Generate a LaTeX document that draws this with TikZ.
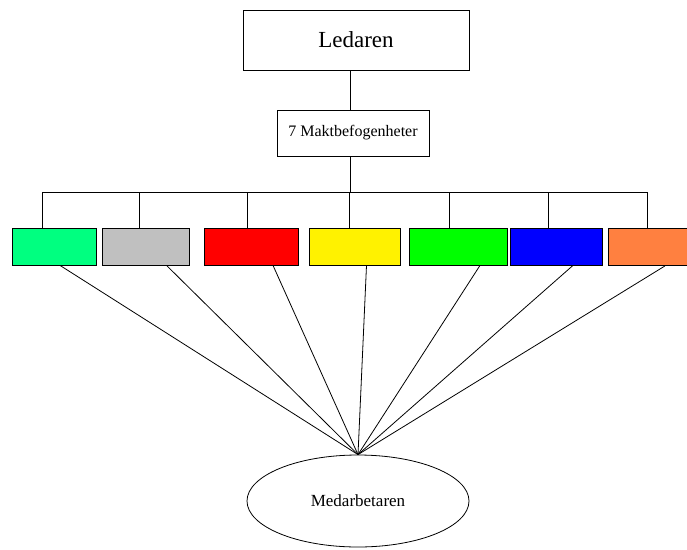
\documentclass[tikz,border=0pt]{standalone}
\usepackage{fontspec}
\setmainfont{Liberation Serif}
\usetikzlibrary{calc,shapes.geometric}
\definecolor{springgreen}{HTML}{00FF80}
\definecolor{boxgray}{HTML}{C0C0C0}
\definecolor{boxorange}{HTML}{FF8040}

\begin{document}
\begin{tikzpicture}[x=1pt, y=-1pt, line width=0.8pt,
    power/.style={rectangle, draw, minimum height=37pt, inner sep=0pt}]
  \useasboundingbox (0,0) rectangle (687,549);
  \node[rectangle, draw, minimum width=226pt, minimum height=60pt, font=\fontsize{23}{26}\selectfont] (led) at (356,40) {Ledaren};
  \node[rectangle, draw, minimum width=152pt, minimum height=46pt, font=\fontsize{16}{19}\selectfont] (mb) at (353,133) {7 Maktbefogenheter};
  \coordinate (top) at (350,192);
  \draw (led.south -| top) -- (mb.north -| top);
  \draw (mb.south -| top) -- (top);
  % the seven coloured boxes
  \node[power, fill=springgreen, minimum width=84pt] (p1) at (54,246.5) {};
  \node[power, fill=boxgray, minimum width=87pt] (p2) at (145.5,246.5) {};
  \node[power, fill=red, minimum width=94pt] (p3) at (251,246.5) {};
  \node[power, fill=yellow, minimum width=91pt] (p4) at (354.5,246.5) {};
  \node[power, fill=green, minimum width=98pt] (p5) at (458,246.5) {};
  \node[power, fill=blue, minimum width=92pt] (p6) at (556,246.5) {};
  \node[power, fill=boxorange, minimum width=86pt] (p7) at (651,247) {};
  % bus line
  \coordinate (b1) at (42,192);
  \coordinate (b2) at (139,192);
  \coordinate (b3) at (247,192);
  \coordinate (b4) at (349,192);
  \coordinate (b5) at (449,192);
  \coordinate (b6) at (548,192);
  \coordinate (b7) at (647,192);
  \draw (b1) -- (b7);
  \draw (b1) -- (b1 |- p1.north);
  \draw (b2) -- (b2 |- p2.north);
  \draw (b3) -- (b3 |- p3.north);
  \draw (b4) -- (b4 |- p4.north);
  \draw (b5) -- (b5 |- p5.north);
  \draw (b6) -- (b6 |- p6.north);
  \draw (b7) -- (b7 |- p7.north);
  \node[ellipse, draw, minimum width=222pt, minimum height=92pt, font=\fontsize{17}{20}\selectfont] (med) at (358,501) {Medarbetaren};
  \draw ([xshift=6pt]p1.south) -- (med.north);
  \draw ([xshift=21pt]p2.south) -- (med.north);
  \draw ([xshift=22pt]p3.south) -- (med.north);
  \draw ([xshift=12pt]p4.south) -- (med.north);
  \draw ([xshift=22pt]p5.south) -- (med.north);
  \draw ([xshift=17pt]p6.south) -- (med.north);
  \draw ([xshift=14pt]p7.south) -- (med.north);
\end{tikzpicture}
\end{document}
